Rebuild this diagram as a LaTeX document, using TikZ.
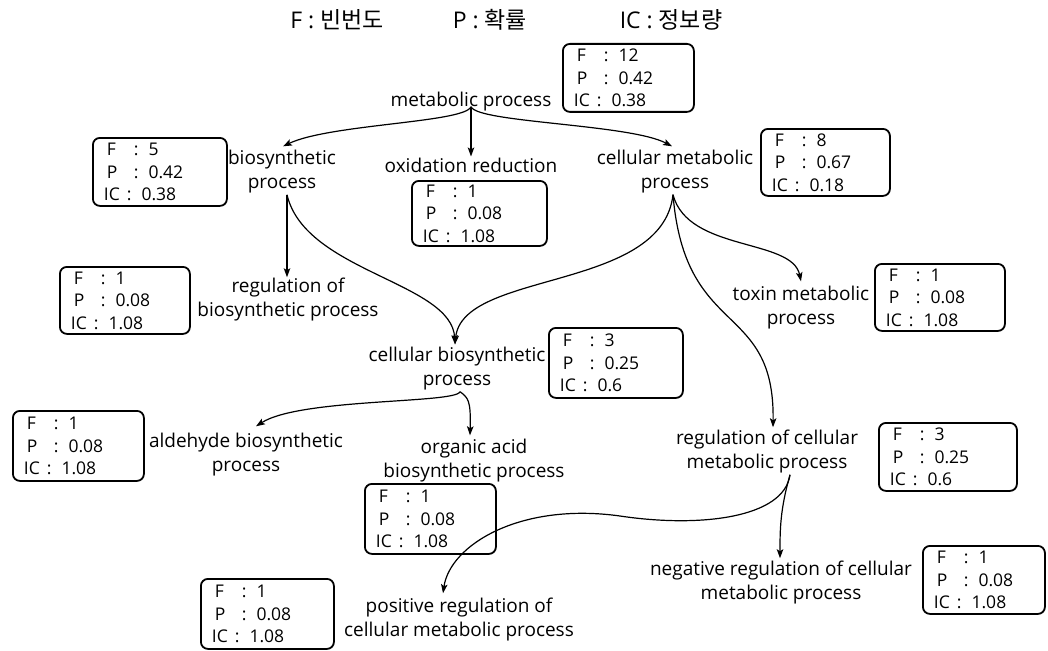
\documentclass[tikz,border=0pt]{standalone}
\usepackage{fontspec}
\setmainfont{Open Sans}
\newfontfamily\kr{Noto Sans CJK KR}
\usetikzlibrary{arrows.meta,calc}
\newcommand\stline[2]{\makebox[30pt][l]{#1}:\hspace{10pt}#2}
\newcommand\icline[1]{\makebox[23pt][l]{IC}:\hspace{10pt}#1}
\newcommand\statbox[8]{\node[databox, minimum width=#4pt, minimum height=#5pt, text width=#4pt-22pt] (#1) at (#2,#3) {\stline{\hspace{3pt}F}{#6}\\\stline{\hspace{3pt}P}{#7}\\\icline{#8}};}
\begin{document}
\begin{tikzpicture}[x=1pt,y=-1pt,
  lbl/.style={align=center, inner sep=1pt, font=\fontsize{19}{24}\selectfont},
  hdr/.style={inner sep=0pt, font=\fontsize{23}{26}\selectfont},
  databox/.style={draw, rounded corners=7pt, line width=1.8pt, anchor=north west, align=left, inner xsep=11pt, inner ysep=0pt, font=\fontsize{17.5}{22.5}\selectfont},
  arr/.style={line width=1.2pt, -{Stealth[length=9pt,width=6.5pt,inset=2pt]}}]
\useasboundingbox (0,0) rectangle (1048,650);
% header
\node[hdr] (h1) at (337,20) {F : {\kr 빈번도}};
\node[hdr] (h2) at (490,20) {P : {\kr 확률}};
\node[hdr] (h3) at (671,20) {IC : {\kr 정보량}};
% text nodes
\node[lbl] (mp) at (471,102) {metabolic process};
\node[lbl] (bp) at (282,172) {biosynthetic\\process};
\node[lbl] (ox) at (471,165) {oxidation reduction};
\node[lbl] (cmp) at (675,172) {cellular metabolic\\process};
\node[lbl] (rbp) at (288,300) {regulation of\\biosynthetic process};
\node[lbl] (tox) at (801,308) {toxin metabolic\\process};
\node[lbl] (cbp) at (457,369) {cellular biosynthetic\\process};
\node[lbl] (ald) at (246,455) {aldehyde biosynthetic\\process};
\node[lbl] (oa) at (474,461) {organic acid\\biosynthetic process};
\node[lbl] (rcm) at (767,452) {regulation of cellular\\metabolic process};
\node[lbl] (neg) at (781,583) {negative regulation of cellular\\metabolic process};
\node[lbl] (pos) at (459,620) {positive regulation of\\cellular metabolic process};
% data boxes
\statbox{bmp}{562}{43}{131}{68}{12}{0.42}{0.38}
\statbox{bbp}{92}{137}{134}{68}{5}{0.42}{0.38}
\statbox{box}{411}{180}{135}{65}{1}{0.08}{1.08}
\statbox{bcmp}{760}{128}{129}{67}{8}{0.67}{0.18}
\statbox{brbp}{59}{266}{130}{67}{1}{0.08}{1.08}
\statbox{btox}{874}{263}{130}{67}{1}{0.08}{1.08}
\statbox{bcbp}{548}{327}{134}{70}{3}{0.25}{0.6}
\statbox{bald}{12}{410}{131}{70}{1}{0.08}{1.08}
\statbox{boa}{364}{483}{131}{70}{1}{0.08}{1.08}
\statbox{brcm}{878}{422}{138}{68}{3}{0.25}{0.6}
\statbox{bneg}{922}{545}{122}{68}{1}{0.08}{1.08}
\statbox{bpos}{200}{578}{133}{70}{1}{0.08}{1.08}
% connectors
\coordinate (m0) at ($(mp.south)+(0,-6)$);
\draw[arr] (m0) .. controls ($(m0)+(-6,16)$) and (330,124) .. ($(bp.north)+(1,-3)$);
\draw[arr] (m0) -- (m0 |- ox.north);
\draw[arr] (m0) .. controls ($(m0)+(6,16)$) and (630,124) .. ($(cmp.north)+(-3,-3)$);
\coordinate (b0) at ($(bp.south)+(5,0)$);
\draw[arr] (b0) -- (b0 |- rbp.north);
\coordinate (c0) at ($(cmp.south)+(-2,0)$);
\draw[arr] (b0) .. controls (305,272) and (452,282) .. ($(cbp.north)+(-2,-2)$);
\draw[arr] (c0) .. controls (662,292) and (462,270) .. ($(cbp.north)+(-2,-2)$);
\draw[arr] (c0) .. controls (688,252) and (792,238) .. ($(tox.north)+(0,-4)$);
\draw[arr] (c0) .. controls (685,340) and (775,300) .. ($(rcm.north)+(6,-2)$);
\coordinate (s0) at ($(cbp.south)+(3,0)$);
\draw[arr] (s0) .. controls ($(s0)+(-4,12)$) and (300,398) .. ($(ald.north)+(10,-6)$);
\draw[arr] (s0) .. controls ($(s0)+(8,6)$) and (471,400) .. ($(oa.north)+(-4,-3)$);
\coordinate (r0) at ($(rcm.south)+(23,0)$);
\draw[arr] (r0) .. controls (784,518) and (700,528) .. (620,516) .. controls (520,502) and (450,545) .. ($(pos.north)+(-16,-4)$);
\draw[arr] (r0) .. controls (780,510) and (780,530) .. ($(neg.north)+(-1,-2)$);
\end{tikzpicture}
\end{document}
